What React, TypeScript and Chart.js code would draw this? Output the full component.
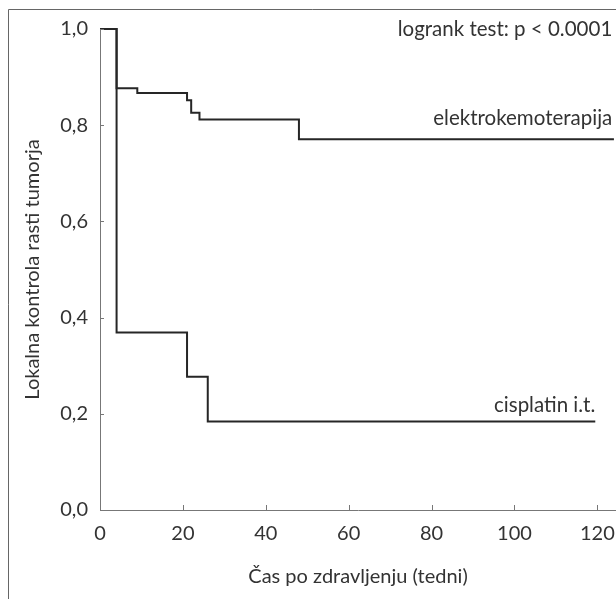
import React, { useEffect, useRef } from "react";
import { Chart, registerables } from "chart.js";

Chart.register(...registerables);

// Kaplan-Meier step data (time in weeks, survival proportion)
const elektroTimes = [0, 4, 9, 21, 22, 24, 48, 124];
const elektroSurv = [1.0, 0.877, 0.867, 0.852, 0.826, 0.812, 0.771, 0.771];
const cisplatinTimes = [0, 4, 21, 26, 119.5];
const cisplatinSurv = [1.0, 0.369, 0.277, 0.184, 0.184];

const xTickValues = [0, 20, 40, 60, 80, 100, 120];
const yTickValues = [0, 0.2, 0.4, 0.6, 0.8, 1.0];

const xTitle = "Čas po zdravljenju (tedni)";
const yTitle = "Lokalna kontrola rasti tumorja";
const annotations = [
  { text: "logrank test: p < 0.0001", x: 123.6, y: 1.0 },
  { text: "elektrokemoterapija", x: 123.6, y: 0.815 },
  { text: "cisplatin i.t.", x: 119.5, y: 0.218 },
];

const FONT = "Lato, 'Open Sans', sans-serif";
const TEXT = "#333333";

export default function App() {
  const ref = useRef<HTMLCanvasElement | null>(null);

  useEffect(() => {
    document.body.style.margin = "0";
    document.documentElement.style.overflow = "hidden";
    if (!ref.current) return;
    const toPts = (t: number[], s: number[]) => t.map((x, i) => ({ x, y: s[i] }));

    const decor = {
      id: "decor",
      afterDraw(chart: any) {
        const ctx = chart.ctx;
        const xs = chart.scales.x;
        const ys = chart.scales.y;
        const area = chart.chartArea;
        ctx.save();
        // frame (cropped box)
        ctx.strokeStyle = "#666";
        ctx.lineWidth = 1;
        ctx.beginPath();
        ctx.moveTo(0.5, chart.height);
        ctx.lineTo(0.5, 1.5);
        ctx.lineTo(chart.width, 1.5);
        ctx.stroke();
        // inward tick marks
        ctx.strokeStyle = "#777";
        ctx.beginPath();
        xTickValues.forEach((v) => {
          const px = Math.round(xs.getPixelForValue(v)) + 0.5;
          ctx.moveTo(px, area.bottom);
          ctx.lineTo(px, area.bottom - 5);
        });
        yTickValues.forEach((v) => {
          const py = Math.round(ys.getPixelForValue(v)) + 0.5;
          ctx.moveTo(area.left, py);
          ctx.lineTo(area.left + 4, py);
        });
        ctx.stroke();
        // annotations
        ctx.fillStyle = TEXT;
        ctx.font = "20.5px " + FONT;
        ctx.textAlign = "right";
        ctx.textBaseline = "middle";
        annotations.forEach((a) => {
          ctx.fillText(a.text, xs.getPixelForValue(a.x), ys.getPixelForValue(a.y));
        });
        ctx.restore();
      },
    };

    const chart = new Chart(ref.current, {
      type: "line",
      data: {
        datasets: [
          {
            label: "elektrokemoterapija",
            data: toPts(elektroTimes, elektroSurv),
            stepped: "before",
            borderColor: "#262626",
            borderWidth: 2,
            pointRadius: 0,
            fill: false,
            clip: false as any,
          },
          {
            label: "cisplatin i.t.",
            data: toPts(cisplatinTimes, cisplatinSurv),
            stepped: "before",
            borderColor: "#262626",
            borderWidth: 2,
            pointRadius: 0,
            fill: false,
            clip: false as any,
          },
        ],
      },
      options: {
        responsive: false,
        animation: false,
        layout: { padding: { top: 21, left: 0, right: 0, bottom: 0 } },
        plugins: {
          legend: { display: false },
          tooltip: { enabled: false },
        },
        scales: {
          x: {
            type: "linear",
            min: 0,
            max: 124.5,
            afterBuildTicks: (s: any) => {
              s.ticks = xTickValues.map((v) => ({ value: v }));
            },
            afterFit: (s: any) => {
              s.height = 89;
              s.paddingLeft = 0;
              s.paddingRight = 0;
            },
            grid: { display: false, drawTicks: false },
            border: { display: true, color: "#777", width: 1 },
            ticks: {
              padding: 12,
              color: TEXT,
              font: { family: FONT, size: 20 },
              maxRotation: 0,
            },
            title: {
              display: true,
              text: xTitle,
              color: TEXT,
              font: { family: FONT, size: 20 },
              padding: { top: 0, bottom: 10 },
            },
          },
          y: {
            type: "linear",
            min: 0,
            max: 1,
            afterBuildTicks: (s: any) => {
              s.ticks = yTickValues.map((v) => ({ value: v }));
            },
            afterFit: (s: any) => {
              s.width = 92;
              s.paddingTop = 0;
              s.paddingBottom = 0;
            },
            grid: { display: false, drawTicks: false },
            border: { display: true, color: "#777", width: 1 },
            ticks: {
              padding: 12,
              color: TEXT,
              font: { family: FONT, size: 20 },
              callback: (v: any) => Number(v).toFixed(1).replace(".", ","),
            },
            title: {
              display: true,
              text: yTitle,
              color: TEXT,
              font: { family: FONT, size: 20 },
              padding: { top: 13, bottom: 0 },
            },
          },
        },
      },
      plugins: [decor],
    });
    return () => chart.destroy();
  }, []);

  return (
    <div style={{ padding: "8px 0 0 8px", width: 608, height: 591 }}>
      <canvas ref={ref} width={608} height={591} style={{ display: "block" }} />
    </div>
  );
}
